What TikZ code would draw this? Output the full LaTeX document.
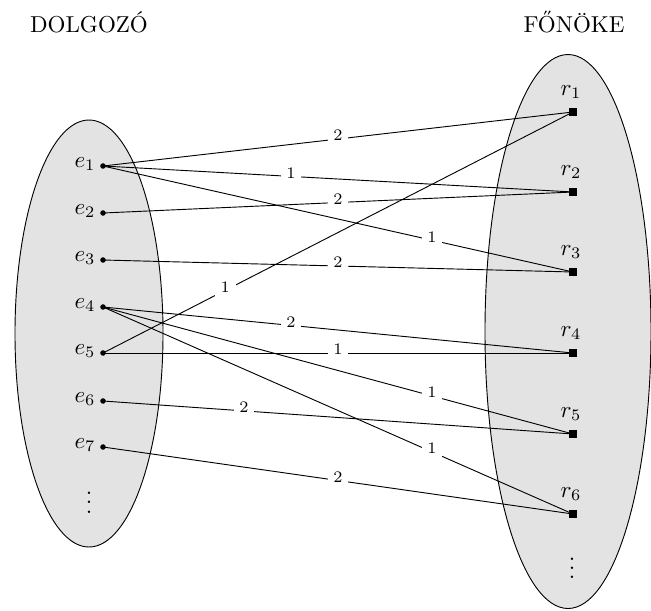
\documentclass[tikz,border=0pt]{standalone}
\begin{document}
\begin{tikzpicture}[x=0.4348pt,y=-0.4348pt,
  setshape/.style={draw=black, fill=black!11, line width=0.4pt},
  edot/.style={circle, fill=black, inner sep=0pt, minimum size=2.4pt},
  rbox/.style={rectangle, fill=black, inner sep=0pt, minimum size=3.3pt},
  elabel/.style={anchor=base east, inner sep=0pt},
  rlabel/.style={anchor=base, inner sep=0pt},
  wlabel/.style={fill=white, inner sep=2.5pt, font=\scriptsize, yshift=1.5pt},
  conn/.style={draw=black, line width=0.4pt},
  title/.style={anchor=base, inner sep=0pt}]
\useasboundingbox (0,0) rectangle (651,610);

% the two sets
\path[setshape] (89,333.5) ellipse [x radius=32.18pt, y radius=92.83pt];
\path[setshape] (568,331.5) ellipse [x radius=36.09pt, y radius=120.44pt];

% headings
\node[title] (tdolg) at (89,32) {DOLGOZÓ};
\node[title] (tfon) at (574,32) {FŐNÖKE};

% employees
\foreach \i/\y in {1/166,2/213,3/260,4/307,5/353,6/401,7/447}{
  \node[edot] (e\i) at (103,\y) {};
  \node[elabel] (le\i) at (96,\y+1) {$e_{\i}$};
}
\node[rlabel] (edots) at (89,513) {$\vdots$};

% bosses
\foreach \i/\y in {1/112,2/192,3/272,4/353,5/434,6/514}{
  \node[rbox] (r\i) at (573,\y) {};
  \node[rlabel] (lr\i) at (571,\y-17) {$r_{\i}$};
}
\node[rlabel] (rdots) at (572,578.5) {$\vdots$};

% weighted connections
\draw[conn] (e1.center) -- node[wlabel,pos=.5]  (w11) {2} (r1.center);
\draw[conn] (e1.center) -- node[wlabel,pos=.4]  (w12) {1} (r2.center);
\draw[conn] (e1.center) -- node[wlabel,pos=.7]  (w13) {1} (r3.center);
\draw[conn] (e2.center) -- node[wlabel,pos=.5]  (w22) {2} (r2.center);
\draw[conn] (e3.center) -- node[wlabel,pos=.5]  (w33) {2} (r3.center);
\draw[conn] (e5.center) -- node[wlabel,pos=.26] (w51) {1} (r1.center);
\draw[conn] (e4.center) -- node[wlabel,pos=.4]  (w44) {2} (r4.center);
\draw[conn] (e5.center) -- node[wlabel,pos=.5]  (w54) {1} (r4.center);
\draw[conn] (e4.center) -- node[wlabel,pos=.7]  (w45) {1} (r5.center);
\draw[conn] (e4.center) -- node[wlabel,pos=.7]  (w46) {1} (r6.center);
\draw[conn] (e6.center) -- node[wlabel,pos=.3]  (w65) {2} (r5.center);
\draw[conn] (e7.center) -- node[wlabel,pos=.5]  (w76) {2} (r6.center);
\end{tikzpicture}
\end{document}
